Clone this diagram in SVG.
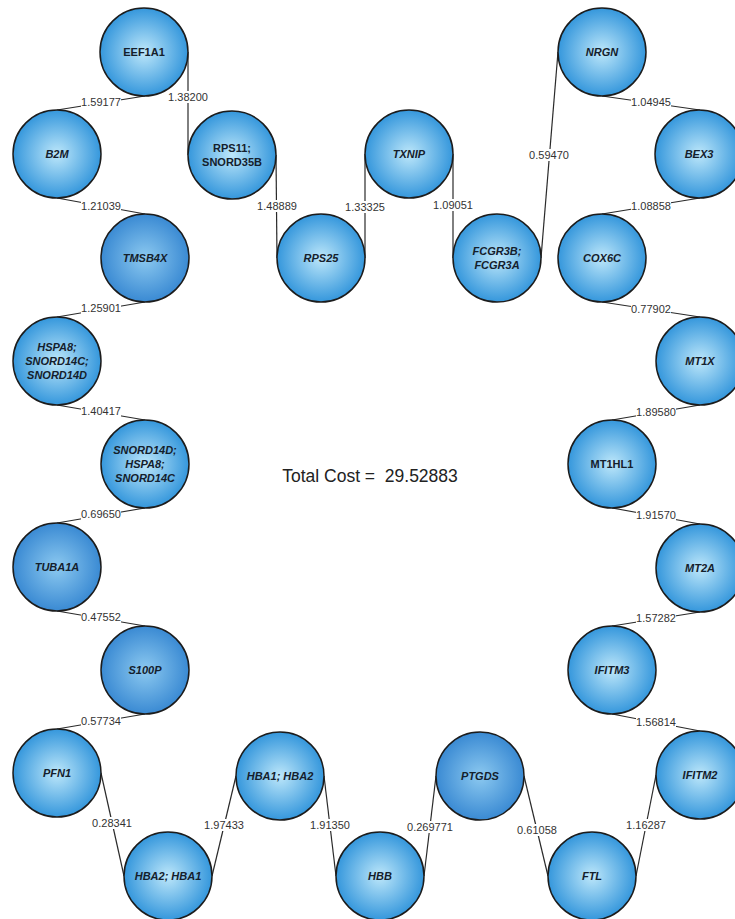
<svg xmlns="http://www.w3.org/2000/svg" width="735" height="919" viewBox="0 0 735 919">
<defs>
<radialGradient id="g1" cx="50%" cy="50%" r="50%">
<stop offset="0%" stop-color="#bde7fa"/>
<stop offset="100%" stop-color="#3597dc"/>
</radialGradient>
<radialGradient id="g2" cx="50%" cy="50%" r="50%">
<stop offset="0%" stop-color="#8cc9f0"/>
<stop offset="100%" stop-color="#3a8ad3"/>
</radialGradient>
<style>
.n{fill:url(#g1);stroke:#1c1c1c;stroke-width:1.5}
.d{fill:url(#g2)}
.t{font-family:"Liberation Sans",Arial,sans-serif;font-size:11px;font-weight:bold;fill:#14202c;text-anchor:middle}
.i{font-style:italic}
.e{stroke:#2a2a2a;stroke-width:1.2;fill:none}
.b{fill:#fff}
.l{font-family:"Liberation Sans",Arial,sans-serif;font-size:11px;fill:#333;text-anchor:middle}
</style>
</defs>
<rect width="735" height="919" fill="#fff"/>
<g id="connectors">
<line class="e" x1="57" y1="110" x2="145" y2="96"/>
<line class="e" x1="188" y1="52" x2="188" y2="155"/>
<line class="e" x1="276" y1="155" x2="277" y2="258"/>
<line class="e" x1="365" y1="258" x2="365" y2="154"/>
<line class="e" x1="453" y1="154" x2="453" y2="258"/>
<line class="e" x1="541" y1="258" x2="558" y2="52"/>
<line class="e" x1="602" y1="96" x2="700" y2="110"/>
<line class="e" x1="700" y1="198" x2="602" y2="214"/>
<line class="e" x1="602" y1="302" x2="700" y2="317"/>
<line class="e" x1="700" y1="405" x2="612" y2="420"/>
<line class="e" x1="612" y1="508" x2="700" y2="524"/>
<line class="e" x1="700" y1="612" x2="612" y2="626"/>
<line class="e" x1="612" y1="714" x2="700" y2="731"/>
<line class="e" x1="656" y1="775" x2="636" y2="876"/>
<line class="e" x1="548" y1="876" x2="524" y2="776"/>
<line class="e" x1="436" y1="776" x2="424" y2="876"/>
<line class="e" x1="336" y1="876" x2="324" y2="776"/>
<line class="e" x1="236" y1="776" x2="212" y2="876"/>
<line class="e" x1="124" y1="876" x2="101" y2="773"/>
<line class="e" x1="57" y1="729" x2="145" y2="714"/>
<line class="e" x1="145" y1="626" x2="57" y2="611"/>
<line class="e" x1="57" y1="523" x2="145" y2="508"/>
<line class="e" x1="145" y1="420" x2="57" y2="405"/>
<line class="e" x1="57" y1="317" x2="145" y2="302"/>
<line class="e" x1="145" y1="214" x2="57" y2="198"/>
<rect class="b" x="81" y="96" width="40" height="12"/><text class="l" x="101" y="106">1.59177</text>
<rect class="b" x="168" y="91" width="40" height="12"/><text class="l" x="188" y="101">1.38200</text>
<rect class="b" x="257" y="200" width="40" height="12"/><text class="l" x="277" y="210">1.48889</text>
<rect class="b" x="345" y="201" width="40" height="12"/><text class="l" x="365" y="211">1.33325</text>
<rect class="b" x="433" y="199" width="40" height="12"/><text class="l" x="453" y="209">1.09051</text>
<rect class="b" x="529" y="149" width="40" height="12"/><text class="l" x="549" y="159">0.59470</text>
<rect class="b" x="631" y="96" width="40" height="12"/><text class="l" x="651" y="106">1.04945</text>
<rect class="b" x="631" y="200" width="40" height="12"/><text class="l" x="651" y="210">1.08858</text>
<rect class="b" x="631" y="303" width="40" height="12"/><text class="l" x="651" y="313">0.77902</text>
<rect class="b" x="636" y="406" width="40" height="12"/><text class="l" x="656" y="416">1.89580</text>
<rect class="b" x="636" y="509" width="40" height="12"/><text class="l" x="656" y="519">1.91570</text>
<rect class="b" x="636" y="612" width="40" height="12"/><text class="l" x="656" y="622">1.57282</text>
<rect class="b" x="636" y="716" width="40" height="12"/><text class="l" x="656" y="726">1.56814</text>
<rect class="b" x="626" y="819" width="40" height="12"/><text class="l" x="646" y="829">1.16287</text>
<rect class="b" x="517" y="824" width="40" height="12"/><text class="l" x="537" y="834">0.61058</text>
<rect class="b" x="407" y="821" width="46" height="12"/><text class="l" x="430" y="831">0.269771</text>
<rect class="b" x="310" y="819" width="40" height="12"/><text class="l" x="330" y="829">1.91350</text>
<rect class="b" x="204" y="819" width="40" height="12"/><text class="l" x="224" y="829">1.97433</text>
<rect class="b" x="92" y="817" width="40" height="12"/><text class="l" x="112" y="827">0.28341</text>
<rect class="b" x="81" y="715" width="40" height="12"/><text class="l" x="101" y="725">0.57734</text>
<rect class="b" x="81" y="611" width="40" height="12"/><text class="l" x="101" y="621">0.47552</text>
<rect class="b" x="81" y="508" width="40" height="12"/><text class="l" x="101" y="518">0.69650</text>
<rect class="b" x="81" y="405" width="40" height="12"/><text class="l" x="101" y="415">1.40417</text>
<rect class="b" x="81" y="302" width="40" height="12"/><text class="l" x="101" y="312">1.25901</text>
<rect class="b" x="81" y="200" width="40" height="12"/><text class="l" x="101" y="210">1.21039</text>
</g>
<g id="EEF1A1"><circle class="n" cx="144" cy="52" r="44"/><text class="t" x="144" y="56">EEF1A1</text></g>
<g id="B2M"><circle class="n" cx="57" cy="154" r="44"/><text class="t i" x="57" y="158">B2M</text></g>
<g id="RPS11"><circle class="n" cx="232" cy="155" r="44"/><text class="t" x="232" y="152">RPS11;</text><text class="t" x="232" y="166">SNORD35B</text></g>
<g id="RPS25"><circle class="n" cx="321" cy="258" r="44"/><text class="t i" x="321" y="262">RPS25</text></g>
<g id="TXNIP"><circle class="n" cx="409" cy="154" r="44"/><text class="t i" x="409" y="158">TXNIP</text></g>
<g id="FCGR3B"><circle class="n" cx="497" cy="258" r="44"/><text class="t i" x="497" y="255">FCGR3B;</text><text class="t i" x="497" y="269">FCGR3A</text></g>
<g id="NRGN"><circle class="n" cx="602" cy="52" r="44"/><text class="t i" x="602" y="56">NRGN</text></g>
<g id="BEX3"><circle class="n" cx="699" cy="154" r="44"/><text class="t i" x="699" y="158">BEX3</text></g>
<g id="COX6C"><circle class="n" cx="602" cy="258" r="44"/><text class="t i" x="602" y="262">COX6C</text></g>
<g id="MT1X"><circle class="n" cx="700" cy="361" r="44"/><text class="t i" x="700" y="365">MT1X</text></g>
<g id="MT1HL1"><circle class="n" cx="612" cy="464" r="44"/><text class="t" x="612" y="468">MT1HL1</text></g>
<g id="MT2A"><circle class="n" cx="700" cy="568" r="44"/><text class="t i" x="700" y="572">MT2A</text></g>
<g id="IFITM3"><circle class="n" cx="612" cy="670" r="44"/><text class="t i" x="612" y="674">IFITM3</text></g>
<g id="IFITM2"><circle class="n" cx="700" cy="775" r="44"/><text class="t i" x="700" y="779">IFITM2</text></g>
<g id="FTL"><circle class="n" cx="592" cy="876" r="44"/><text class="t i" x="592" y="880">FTL</text></g>
<g id="PTGDS"><circle class="n d" cx="480" cy="776" r="44"/><text class="t i" x="480" y="780">PTGDS</text></g>
<g id="HBB"><circle class="n" cx="380" cy="876" r="44"/><text class="t i" x="380" y="880">HBB</text></g>
<g id="HBA1_HBA2"><circle class="n" cx="280" cy="776" r="44"/><text class="t i" x="280" y="780">HBA1; HBA2</text></g>
<g id="HBA2_HBA1"><circle class="n" cx="168" cy="876" r="44"/><text class="t i" x="168" y="880">HBA2; HBA1</text></g>
<g id="PFN1"><circle class="n" cx="57" cy="773" r="44"/><text class="t i" x="57" y="777">PFN1</text></g>
<g id="S100P"><circle class="n d" cx="145" cy="670" r="44"/><text class="t i" x="145" y="674">S100P</text></g>
<g id="TUBA1A"><circle class="n d" cx="57" cy="567" r="44"/><text class="t i" x="57" y="571">TUBA1A</text></g>
<g id="SNORD14D"><circle class="n" cx="145" cy="464" r="44"/><text class="t i" x="145" y="454">SNORD14D;</text><text class="t i" x="145" y="468">HSPA8;</text><text class="t i" x="145" y="482">SNORD14C</text></g>
<g id="HSPA8"><circle class="n" cx="57" cy="361" r="44"/><text class="t i" x="57" y="351">HSPA8;</text><text class="t i" x="57" y="365">SNORD14C;</text><text class="t i" x="57" y="379">SNORD14D</text></g>
<g id="TMSB4X"><circle class="n d" cx="145" cy="258" r="44"/><text class="t i" x="145" y="262">TMSB4X</text></g>
<text x="370" y="482" font-family="Liberation Sans, Arial, sans-serif" font-size="17.5" fill="#222" text-anchor="middle" xml:space="preserve">Total Cost =  29.52883</text>
</svg>
